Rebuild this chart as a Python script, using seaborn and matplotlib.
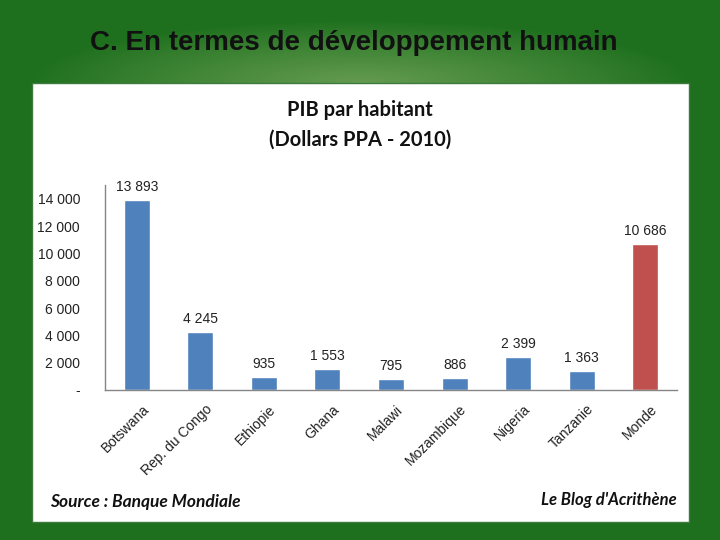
import numpy as np
import pandas as pd
import seaborn as sns
import matplotlib.pyplot as plt
from matplotlib.patches import Rectangle
from matplotlib.ticker import FixedLocator, FuncFormatter

# data
pays = ['Botswana', 'Rep. du Congo', 'Ethiopie', 'Ghana', 'Malawi',
        'Mozambique', 'Nigeria', 'Tanzanie', 'Monde']
pib = [13893, 4245, 935, 1553, 795, 886, 2399, 1363, 10686]
groupe = ['pays'] * 8 + ['monde']

df = pd.DataFrame({'pays': pays, 'pib': pib, 'groupe': groupe})

sns.set_style('white')
plt.rcParams['font.family'] = ['Liberation Sans', 'DejaVu Sans']

fig = plt.figure(figsize=(7.2, 5.4), dpi=100)

# green slide background with a lighter glow at the top
bg = fig.add_axes([0, 0, 1, 1])
yy, xx = np.mgrid[0:540, 0:720]
d = np.sqrt(((xx - 360) / 330.0) ** 2 + ((yy - 82) / 62.0) ** 2)
glow = np.clip(1 - d, 0, 1) ** 0.9
dark = np.array([30, 112, 30]) / 255.0
light = np.array([100, 155, 80]) / 255.0
img = dark[None, None, :] * (1 - glow[..., None]) + light[None, None, :] * glow[..., None]
bg.imshow(img, aspect='auto', extent=[0, 1, 0, 1], origin='upper')
bg.set_axis_off()

fig.text(0.492, 0.92, 'C. En termes de développement humain', ha='center', va='center',
         fontsize=20, fontweight='bold', color='#111111',
         family=['Liberation Sans', 'DejaVu Sans'])

# white chart panel
fig.patches.append(Rectangle((32 / 720, 1 - 522 / 540), 657 / 720, 439 / 540,
                             transform=fig.transFigure, facecolor='white',
                             edgecolor='#3d7a3d', linewidth=1, zorder=1))

ax = fig.add_axes([105 / 720, 150 / 540, 572 / 720, 205 / 540])
ax.set_zorder(3)
sns.barplot(data=df, x='pays', y='pib', hue='groupe',
            palette={'pays': '#4F81BD', 'monde': '#C0504D'},
            width=0.41, dodge=False, legend=False, ax=ax, saturation=1)

ax.set_xlim(-0.5, len(pays) - 0.5)
ax.set_ylim(0, 15000)
ax.set_yticks(range(0, 14001, 2000))
ax.yaxis.set_major_formatter(FuncFormatter(
    lambda v, p: '-' if v == 0 else f'{int(v):,}'.replace(',', ' ')))
ax.xaxis.set_major_locator(FixedLocator(np.arange(-0.5, len(pays), 1)))
ax.set_xticklabels([])
ax.set_xlabel('')
ax.set_ylabel('')
ax.tick_params(axis='both', direction='out', length=4, width=1, color='#868686',
               labelsize=10, labelcolor='#222222')
ax.tick_params(axis='y', pad=14)
for lbl in ax.get_yticklabels():
    lbl.set_horizontalalignment('right')
for side in ['top', 'right']:
    ax.spines[side].set_visible(False)
for side in ['left', 'bottom']:
    ax.spines[side].set_color('#868686')
    ax.spines[side].set_linewidth(1)

# value labels and rotated category names
for i, v in enumerate(pib):
    ax.text(i, v + 450, f'{v:,}'.replace(',', ' '), ha='center', va='bottom',
            fontsize=10, color='#222222')
    ax.text(i + 0.08, -900, pays[i], ha='right', va='top', rotation=45,
            rotation_mode='anchor', fontsize=10, color='#222222')

fig.text(0.5, 1 - 110 / 540, 'PIB par habitant', ha='center', va='center',
         fontsize=14.5, fontweight='bold', color='#111111',
         family=['Lato', 'DejaVu Sans'])
fig.text(0.5, 1 - 140 / 540, '(Dollars PPA - 2010)', ha='center', va='center',
         fontsize=14.5, fontweight='bold', color='#111111',
         family=['Lato', 'DejaVu Sans'])

fig.text(50 / 720, 1 - 502 / 540, 'Source : Banque Mondiale', ha='left', va='center',
         fontsize=12.5, fontweight='bold', style='italic', color='#111111',
         family=['Lato', 'DejaVu Sans'])
fig.text(677 / 720, 1 - 500 / 540, "Le Blog d'Acrithène", ha='right', va='center',
         fontsize=12, fontweight='bold', style='italic', color='#111111',
         family=['Lato', 'DejaVu Sans'])

fig.savefig('out.png', dpi=100)
